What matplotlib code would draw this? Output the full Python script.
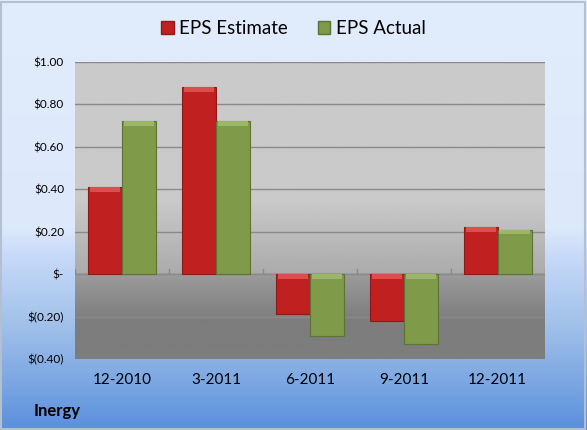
import numpy as np
import matplotlib
matplotlib.use('Agg')
import matplotlib.pyplot as plt
from matplotlib.colors import LinearSegmentedColormap
from matplotlib.patches import Patch

plt.rcParams['font.family'] = ['Lato', 'DejaVu Sans']

# Data
quarters = ['12-2010', '3-2011', '6-2011', '9-2011', '12-2011']
eps_estimate = [0.41, 0.88, -0.19, -0.22, 0.22]
eps_actual = [0.72, 0.72, -0.29, -0.33, 0.21]
y_ticks = [-0.4, -0.2, 0.0, 0.2, 0.4, 0.6, 0.8, 1.0]
y_labels = ['$(0.40)', '$(0.20)', '$-', '$0.20', '$0.40', '$0.60', '$0.80', '$1.00']
company = 'Inergy'

red = '#c0201f'
green = '#7f9a48'

fig = plt.figure(figsize=(5.87, 4.30), dpi=100)

# figure background gradient (light top, blue bottom)
bg = fig.add_axes([0, 0, 1, 1], zorder=0)
bg_cmap = LinearSegmentedColormap.from_list('bg', [
    (0.0, '#5a90dc'), (0.12, '#7fa9e3'), (0.25, '#a2c2ea'),
    (0.40, '#c6d9f8'), (0.47, '#dde9fb'), (1.0, '#e1ecfc')])
grad = np.linspace(0, 1, 430).reshape(-1, 1)
bg.imshow(grad, aspect='auto', cmap=bg_cmap, origin='lower', extent=[0, 1, 0, 1])
bg.set_xlim(0, 1)
bg.set_ylim(0, 1)
bg.axis('off')
bg.add_patch(plt.Rectangle((0.002, 0.003), 0.994, 0.993, fill=False, edgecolor='#b4c0d0', lw=1.5))

ax = fig.add_axes([0.128, 0.165, 0.8, 0.691], zorder=1)
n = len(quarters)
x = np.arange(n)
ax.set_xlim(-0.5, n - 0.5)
ax.set_ylim(-0.4, 1.0)

# plot area gradient: light above zero, darker below
yy = np.linspace(-0.4, 1.0, 400)
vals = np.where(yy >= 0, 0.79 - 0.12 * np.clip(1 - yy / 0.35, 0, 1),
                0.61 - 0.12 * np.clip(-yy / 0.22, 0, 1))
ax.imshow(vals.reshape(-1, 1), aspect='auto', cmap='gray', vmin=0, vmax=1,
          origin='lower', extent=[-0.5, n - 0.5, -0.4, 1.0], zorder=0)

for t in y_ticks[1:]:
    ax.axhline(t, color='#8a8a8a', lw=1, zorder=1)

w = 0.36
ax.bar(x - w / 2, eps_estimate, w, color=red, edgecolor='#8e1a18', lw=0.8, zorder=3)
ax.bar(x + w / 2, eps_actual, w, color=green, edgecolor='#5d7235', lw=0.8, zorder=3)

# bevel highlight at the top edge of each bar
hl = 0.022
for vals_s, off, col in [(eps_estimate, -w / 2, '#dc4e4b'), (eps_actual, w / 2, '#9cb668')]:
    tops = [v if v > 0 else 0 for v in vals_s]
    ax.bar(x + off, [hl] * n, w * 0.9, bottom=[t - hl for t in tops], color=col, lw=0, zorder=4)

# small category tick marks on zero line
for b in np.arange(-0.5, n, 1.0):
    ax.plot([b, b], [0, 0.025], color='#8a8a8a', lw=1, zorder=2)

ax.set_yticks(y_ticks)
ax.set_yticklabels(y_labels, fontsize=8.5)
ax.set_xticks(x)
ax.set_xticklabels(quarters, fontsize=11)
ax.tick_params(length=0, pad=10)
ax.tick_params(axis='y', pad=8)
for s in ax.spines.values():
    s.set_visible(False)

handles = [Patch(facecolor=red, edgecolor='#8e1a18', label='EPS Estimate'),
           Patch(facecolor=green, edgecolor='#5d7235', label='EPS Actual')]
fig.legend(handles=handles, loc='center', bbox_to_anchor=(0.5, 0.933), ncol=2,
           frameon=False, fontsize=13.5, handlelength=0.65, handleheight=0.65,
           handletextpad=0.3, columnspacing=1.6)

fig.text(0.057, 0.044, company, fontsize=12, fontweight='bold', ha='left', va='center')

fig.savefig('out.png', dpi=100)
